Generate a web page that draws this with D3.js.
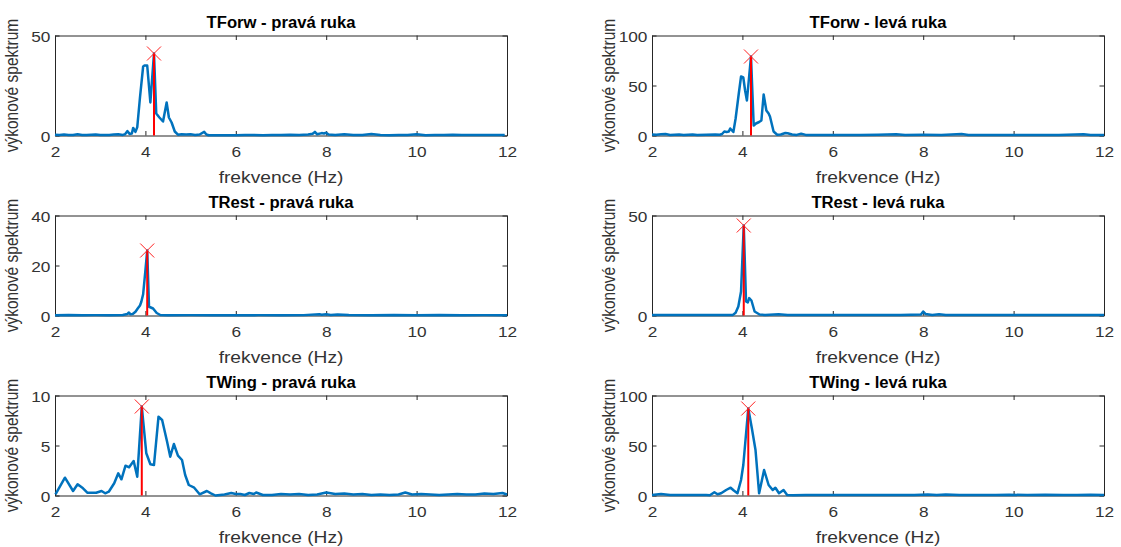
<!DOCTYPE html>
<html><head><meta charset="utf-8">
<script src="https://cdn.jsdelivr.net/npm/d3@7"></script>
<style>body{margin:0;background:#fff}svg{display:block}</style>
</head><body>
<svg id="c" width="1121" height="547"></svg>
<script>
// ---- data (frequency Hz, power) ----
const tforwPrava = [[2.0,0.4],[2.1,0.2],[2.2,0.5],[2.3,0.3],[2.4,0.2],[2.5,0.6],[2.6,0.3],[2.7,0.2],[2.8,0.4],[2.9,0.5],[3.0,0.2],[3.1,0.3],[3.2,0.2],[3.3,0.5],[3.4,0.6],[3.5,0.3],[3.55,0.6],[3.6,2.2],[3.65,0.8],[3.7,1.0],[3.73,3.8],[3.78,1.8],[3.82,4.2],[3.88,19],[3.95,34.5],[3.98,35],[4.04,35],[4.11,16.5],[4.19,41],[4.24,11],[4.31,9],[4.39,7],[4.47,16.5],[4.52,9],[4.58,6.5],[4.65,2],[4.72,0.4],[4.8,0.6],[4.9,0.5],[5.0,0.6],[5.1,0.3],[5.2,0.5],[5.3,1.8],[5.35,0.5],[5.4,0.1],[5.6,0.1],[5.8,0.1],[6.0,0.1],[6.2,0.2],[6.4,0.3],[6.6,0.1],[6.8,0.3],[7.0,0.2],[7.2,0.4],[7.4,0.3],[7.6,0.5],[7.7,0.9],[7.75,1.8],[7.8,0.6],[7.9,1.2],[7.95,1.0],[8.0,1.4],[8.05,0.5],[8.2,0.2],[8.4,0.6],[8.6,0.3],[8.8,0.2],[9.0,0.7],[9.2,0.3],[9.4,0.1],[9.6,0.2],[9.8,0.2],[10.0,0.6],[10.2,0.1],[10.4,0.2],[10.6,0.2],[10.8,0.4],[11.0,0.2],[11.2,0.3],[11.4,0.2],[11.6,0.3],[11.8,0.2],[11.95,0.3]];
const tforwLeva = [[2.0,1.0],[2.1,0.8],[2.2,1.2],[2.3,1.5],[2.4,0.6],[2.5,0.8],[2.6,0.9],[2.7,0.5],[2.8,0.8],[2.9,1.0],[3.0,0.6],[3.2,0.8],[3.4,1.0],[3.5,0.8],[3.55,1.5],[3.6,4],[3.65,3.5],[3.7,4],[3.73,7],[3.77,5],[3.8,3.5],[3.85,17],[3.92,42],[3.97,59],[4.02,58],[4.06,45],[4.1,35],[4.19,79],[4.25,10],[4.3,12],[4.37,13.5],[4.42,15],[4.47,41],[4.53,25],[4.58,22],[4.61,19],[4.69,4],[4.77,0.8],[4.85,1.0],[4.95,2.5],[5.0,2.2],[5.1,1.0],[5.2,0.6],[5.3,1.8],[5.4,0.6],[5.6,0.5],[5.8,0.6],[6.0,0.4],[6.3,0.6],[6.6,0.5],[7.0,0.7],[7.4,1.2],[7.6,0.6],[8.0,0.7],[8.4,0.5],[8.85,1.5],[9.0,0.6],[9.4,0.5],[9.8,0.4],[10.2,0.5],[10.6,0.4],[11.0,0.5],[11.55,1.2],[11.7,0.5],[12.0,0.6]];
const trestPrava = [[2.0,0.1],[2.3,0.2],[2.6,0.1],[2.9,0.15],[3.2,0.1],[3.5,0.2],[3.6,0.6],[3.63,1.2],[3.67,0.5],[3.72,0.6],[3.78,1.5],[3.83,2.8],[3.88,4],[3.91,5.5],[3.95,8.5],[4.0,18],[4.04,26],[4.08,3.5],[4.12,3.2],[4.17,2.8],[4.25,1.0],[4.33,0.2],[4.5,0.1],[5.0,0.15],[5.5,0.1],[6.0,0.1],[6.5,0.15],[7.0,0.1],[7.5,0.15],[7.85,0.5],[7.9,0.3],[8.0,0.5],[8.1,0.2],[8.25,0.4],[8.5,0.2],[9.0,0.1],[9.5,0.2],[10.0,0.1],[10.5,0.2],[11.0,0.1],[11.5,0.15],[12.0,0.1]];
const trestLeva = [[2.0,0.2],[2.4,0.3],[2.8,0.2],[3.2,0.3],[3.6,0.2],[3.79,0.3],[3.85,1.4],[3.91,4.5],[3.97,12],[4.03,45],[4.08,7],[4.12,6.5],[4.15,8.7],[4.2,7.5],[4.27,2],[4.38,0.5],[4.5,0.3],[4.8,0.6],[5.0,0.2],[5.5,0.3],[6.0,0.2],[6.5,0.3],[7.0,0.2],[7.5,0.3],[7.95,0.5],[8.0,2],[8.05,0.8],[8.2,0.3],[8.35,0.6],[8.5,0.2],[9.0,0.3],[9.5,0.2],[10.0,0.3],[10.5,0.2],[11.0,0.3],[11.5,0.2],[12.0,0.3]];
const twingPrava = [[2.01,0.12],[2.22,1.78],[2.4,0.45],[2.5,1.12],[2.62,0.72],[2.72,0.27],[2.91,0.27],[3.03,0.45],[3.11,0.22],[3.19,0.38],[3.31,1.22],[3.4,2.22],[3.47,1.62],[3.56,2.98],[3.64,2.82],[3.74,3.45],[3.82,1.88],[3.92,8.9],[4.02,4.22],[4.11,3.12],[4.19,3.05],[4.29,7.88],[4.37,7.55],[4.48,5.38],[4.55,3.88],[4.63,5.15],[4.72,3.98],[4.81,3.55],[4.88,2.05],[4.96,1.05],[5.08,0.78],[5.2,0.12],[5.36,0.45],[5.45,0.22],[5.55,0.0],[5.75,0.1],[5.9,0.25],[6.0,0.15],[6.1,0.15],[6.2,0.05],[6.3,0.25],[6.4,0.15],[6.45,0.3],[6.6,0.05],[6.8,0.05],[7.0,0.15],[7.2,0.1],[7.4,0.15],[7.6,0.05],[7.8,0.1],[8.0,0.3],[8.2,0.15],[8.4,0.2],[8.6,0.1],[8.8,0.15],[9.0,0.05],[9.2,0.1],[9.4,0.05],[9.6,0.1],[9.75,0.3],[9.9,0.1],[10.1,0.15],[10.3,0.1],[10.5,0.05],[10.7,0.1],[10.9,0.15],[11.1,0.1],[11.3,0.1],[11.5,0.2],[11.7,0.15],[11.9,0.25],[12.0,0.1]];
const twingLeva = [[2.0,0.5],[2.2,1.5],[2.4,0.4],[2.6,0.6],[2.8,0.4],[3.0,0.5],[3.2,0.4],[3.28,0.3],[3.38,3.2],[3.45,1.2],[3.53,2.2],[3.64,5.5],[3.74,7.8],[3.81,5],[3.89,2.2],[3.97,15.5],[4.02,30.5],[4.13,87],[4.21,67],[4.29,45.5],[4.37,2.2],[4.48,25.5],[4.58,10.5],[4.67,5.5],[4.73,7.8],[4.81,2.2],[4.91,5.5],[4.99,0.5],[5.12,0.3],[5.4,0.5],[5.8,0.4],[6.2,0.6],[6.6,0.4],[7.0,0.5],[7.4,0.4],[7.8,0.6],[8.1,1.0],[8.3,0.5],[8.5,1.0],[8.8,0.4],[9.2,0.5],[9.6,0.4],[9.9,0.8],[10.3,0.4],[10.7,0.8],[11.1,0.4],[11.4,0.5],[11.7,0.8],[12.0,0.4]];

const titles = ["TForw - pravá ruka","TForw - levá ruka","TRest - pravá ruka","TRest - levá ruka","TWing - pravá ruka","TWing - levá ruka"];
const seriesList = [tforwPrava, tforwLeva, trestPrava, trestLeva, twingPrava, twingLeva];
const yMaxes = [50,100,40,50,10,100];
const yTickValues = [[0,50],[0,50,100],[0,20,40],[0,50],[0,5,10],[0,50,100]];
const xTickValues = [2,4,6,8,10,12];
const peakFreq = [4.19,4.19,4.04,4.03,3.92,4.13];
const peakPower = [41,79,26,45,8.9,87];
const xLabel = "frekvence (Hz)";
const yLabel = "výkonové spektrum";

// ---- layout ----
const svg = d3.select("#c");
const colLeft = [55,652], plotW = 452, rowTop = [35.5,215.5,395.5], plotH = 100;
const axisColor = "#262626", font = "'Liberation Sans', Arial, sans-serif";
const sx = 1.2, sxTick = 1.15;

seriesList.forEach((data,i)=>{
  const col = i%2, row = Math.floor(i/2);
  const g = svg.append("g").attr("transform",`translate(${colLeft[col]},${rowTop[row]})`);
  const x = d3.scaleLinear().domain([2,12]).range([0,plotW]);
  const y = d3.scaleLinear().domain([0,yMaxes[i]]).range([plotH,0]);

  const ax = g.append("g").attr("transform",`translate(0,${plotH})`)
    .call(d3.axisBottom(x).tickValues(xTickValues).tickSizeInner(-4.5).tickSizeOuter(0).tickPadding(11));
  const axT = g.append("g").call(d3.axisTop(x).tickValues(xTickValues).tickSizeInner(-4.5).tickSizeOuter(0).tickFormat(""));
  const ay = g.append("g").call(d3.axisLeft(y).tickValues(yTickValues[i]).tickSizeInner(-4.5).tickSizeOuter(0).tickPadding(4));
  const ayR = g.append("g").attr("transform",`translate(${plotW},0)`)
    .call(d3.axisRight(y).tickValues(yTickValues[i]).tickSizeInner(-4.5).tickSizeOuter(0).tickFormat(""));
  [ax,axT,ay,ayR].forEach(a=>{
    a.selectAll("path.domain").attr("stroke",axisColor).attr("stroke-width",1);
    a.selectAll(".tick line").attr("stroke",axisColor).attr("stroke-width",1);
    a.selectAll("text").attr("fill","#333").style("font-family",font).style("font-size","15px")
      .attr("transform",`scale(${sxTick},1)`);
  });
  ay.selectAll("text").attr("dy","0.4em");

  const line = d3.line().x(d=>x(d[0])).y(d=>y(d[1]));
  g.append("path").datum(data).attr("d",line).attr("fill","none")
    .attr("stroke","#0072BD").attr("stroke-width",2.5).attr("stroke-linejoin","round");

  // stem
  g.append("line").attr("x1",x(peakFreq[i])).attr("x2",x(peakFreq[i]))
    .attr("y1",y(0)).attr("y2",y(peakPower[i])).attr("stroke","#FF0000").attr("stroke-width",2);
  // x marker
  const mx = x(peakFreq[i]), my = y(peakPower[i]), s = 7;
  g.append("path").attr("d",`M${mx-s},${my-s}L${mx+s},${my+s}M${mx-s},${my+s}L${mx+s},${my-s}`)
    .attr("stroke","#FF2020").attr("stroke-width",1).attr("fill","none");

  g.append("text").attr("transform",`translate(${plotW/2},-8) scale(1.04,1)`).attr("text-anchor","middle")
    .style("font-family",font).style("font-size","16px").style("font-weight","bold").attr("fill","#000")
    .text(titles[i]);
  g.append("text").attr("transform",`translate(${plotW/2},${plotH+47}) scale(${sx},1)`).attr("text-anchor","middle")
    .style("font-family",font).style("font-size","16px").attr("fill","#333").text(xLabel);
  g.append("text").attr("transform",`translate(-37,${plotH/2}) scale(${sx},1) rotate(-90)`).attr("text-anchor","middle")
    .style("font-family",font).style("font-size","15.5px").attr("fill","#333").text(yLabel);
});
</script>
</body></html>
